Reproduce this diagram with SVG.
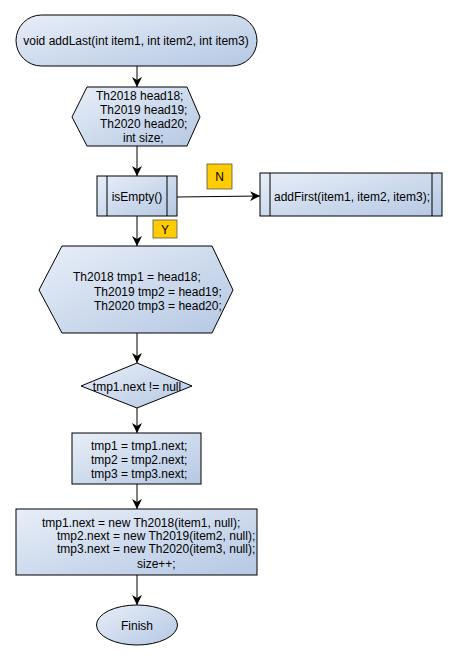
<svg xmlns="http://www.w3.org/2000/svg" width="458" height="660" viewBox="0 0 458 660">
<defs>
<linearGradient id="g" x1="0" y1="0" x2="1" y2="1">
<stop offset="0" stop-color="#E8EEF8"/>
<stop offset="1" stop-color="#B5C8E3"/>
</linearGradient>
<marker id="arr" markerWidth="10" markerHeight="10" viewBox="0 0 10 10" refX="10" refY="5" orient="auto" markerUnits="userSpaceOnUse">
<path d="M0,0 L10,5 L0,10 L3,5 Z" fill="#000"/>
</marker>
</defs>
<style>
.n{fill:url(#g);stroke:#000;stroke-width:1}
.t{font-family:"Liberation Sans",Arial,sans-serif;font-size:12px;fill:#000}
.c{stroke:#000;stroke-width:1;fill:none;marker-end:url(#arr)}
.lab{fill:#FFCC00;stroke:#555;stroke-width:0.8}
</style>
<rect width="458" height="660" fill="#fff"/>
<g id="connectors">
<line class="c" x1="137" y1="66" x2="137" y2="87"/>
<line class="c" x1="137" y1="146" x2="137" y2="176"/>
<line class="c" x1="177" y1="197" x2="260" y2="196"/>
<line class="c" x1="137" y1="216" x2="137" y2="246"/>
<line class="c" x1="137" y1="333" x2="137" y2="363"/>
<line class="c" x1="137" y1="408" x2="137" y2="433"/>
<line class="c" x1="137" y1="484" x2="137" y2="509"/>
<line class="c" x1="137" y1="575" x2="137" y2="605"/>
</g>
<g id="start">
<rect class="n" x="16" y="15" width="241" height="51" rx="25.5" ry="25.5"/>
<text class="t" x="136" y="44.5" text-anchor="middle">void addLast(int item1, int item2, int item3)</text>
</g>
<g id="decl">
<polygon class="n" points="87,87 187,87 200,117 187,146 87,146 72,117"/>
<text class="t" x="96" y="99.5">Th2018 head18;</text>
<text class="t" x="100" y="113.5">Th2019 head19;</text>
<text class="t" x="100" y="127.5">Th2020 head20;</text>
<text class="t" x="123" y="142">int size;</text>
</g>
<g id="isEmpty">
<rect class="n" x="97" y="176" width="80" height="40"/>
<line x1="107" y1="176" x2="107" y2="216" stroke="#000"/>
<line x1="167" y1="176" x2="167" y2="216" stroke="#000"/>
<text class="t" x="137" y="201" text-anchor="middle">isEmpty()</text>
</g>
<g id="labelN">
<rect class="lab" x="207" y="164" width="25" height="25"/>
<text class="t" x="219.5" y="181" text-anchor="middle">N</text>
</g>
<g id="addFirst">
<rect class="n" x="260" y="173" width="182" height="43"/>
<line x1="270" y1="173" x2="270" y2="216" stroke="#000"/>
<line x1="432" y1="173" x2="432" y2="216" stroke="#000"/>
<text class="t" x="274" y="200.5">addFirst(item1, item2, item3);</text>
</g>
<g id="labelY">
<rect class="lab" x="153" y="220" width="24" height="18"/>
<text class="t" x="165" y="233.5" text-anchor="middle">Y</text>
</g>
<g id="tmpdecl">
<polygon class="n" points="62,246 212,246 233,290 212,333 62,333 39,290"/>
<text class="t" x="73" y="280.5">Th2018 tmp1 = head18;</text>
<text class="t" x="94" y="296">Th2019 tmp2 = head19;</text>
<text class="t" x="94" y="310">Th2020 tmp3 = head20;</text>
</g>
<g id="cond">
<polygon class="n" points="137,363 192,386 137,408 81,386"/>
<text class="t" x="137" y="390.5" text-anchor="middle">tmp1.next != null</text>
</g>
<g id="advance">
<rect class="n" x="72" y="433" width="129" height="51"/>
<text class="t" x="91" y="449.5">tmp1 = tmp1.next;</text>
<text class="t" x="91" y="464">tmp2 = tmp2.next;</text>
<text class="t" x="91" y="478">tmp3 = tmp3.next;</text>
</g>
<g id="append">
<rect class="n" x="16" y="509" width="241" height="66"/>
<text class="t" x="42" y="526.5">tmp1.next = new Th2018(item1, null);</text>
<text class="t" x="57" y="539.5">tmp2.next = new Th2019(item2, null);</text>
<text class="t" x="57" y="552.5">tmp3.next = new Th2020(item3, null);</text>
<text class="t" x="137" y="567.5">size++;</text>
</g>
<g id="finish">
<ellipse class="n" cx="137" cy="625" rx="40.5" ry="20"/>
<text class="t" x="137" y="629.5" text-anchor="middle">Finish</text>
</g>
</svg>
